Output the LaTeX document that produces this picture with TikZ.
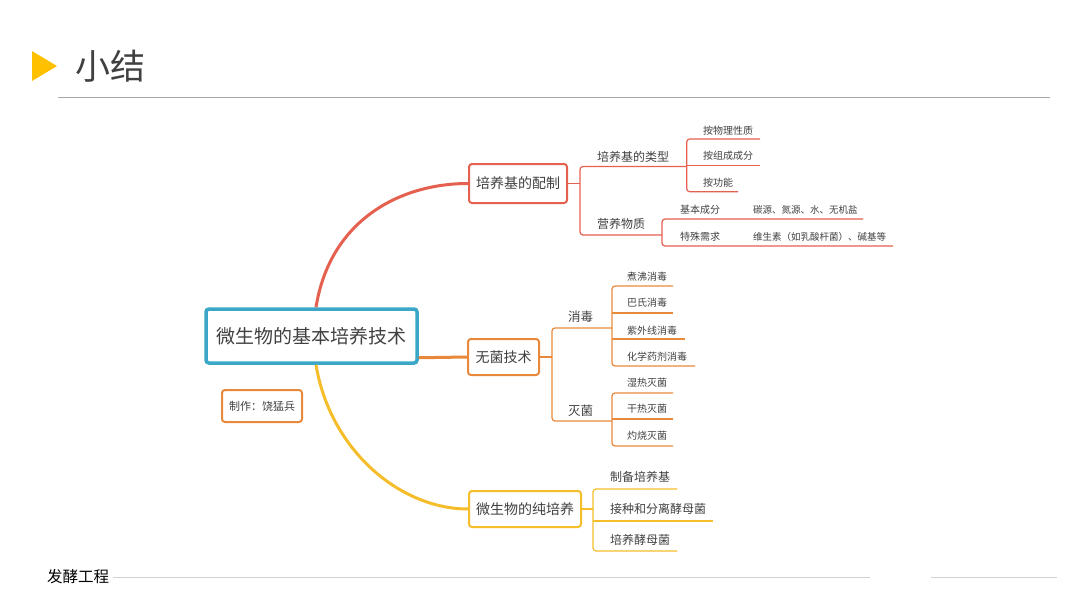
\documentclass[tikz,border=0pt]{standalone}
\usepackage{fontspec}
\setmainfont{Noto Sans CJK SC}
\definecolor{tgray}{HTML}{404040}
\definecolor{cblue}{HTML}{3AA6C8}
\definecolor{cred}{HTML}{E5604F}
\definecolor{corange}{HTML}{E8883A}
\definecolor{cyellow}{HTML}{F6BD2A}
\definecolor{tri}{HTML}{FFC000}
\tikzset{
  fs/.style={font=\fontsize{#1}{#1}\selectfont},
  txt/.style={anchor=west,inner sep=0pt,text=tgray},
  topbox/.style={draw=#1,line width=2pt,rounded corners=3pt,inner sep=0pt,fill=white,text=tgray,font=\fontsize{14}{14}\selectfont},
  sub/.style={draw=#1,line width=1.2pt,rounded corners=3pt},
  mainln/.style={draw=#1,line width=3pt},
}
\begin{document}
\begin{tikzpicture}[x=1pt,y=-1pt]
\useasboundingbox (0,0) rectangle (1080,608);
% title
\fill[tri] (32,51) -- (57,66) -- (32,81) -- cycle;
\node[txt,fs=35] (title) at (75,66) {小结};
\draw[gray!70,line width=1pt] (58,97) -- (1050,97);
% footer
\node[txt,fs=15.5,text=black] (foot) at (47,577) {发酵工程};
\draw[gray!35,line width=0.8pt] (foot.east) ++(4,0) -- (870,577);
\coordinate (f1) at (931,577);
\coordinate (f2) at (1057,577);
\draw[gray!35,line width=0.8pt] (f1) -- (f2);
% main connectors (drawn first, below boxes)
\coordinate (cN) at (316,307);
\coordinate (cS) at (316,365);
% central
\node[draw=cblue,line width=3.5pt,rounded corners=3pt,minimum width=211pt,minimum height=54pt,inner sep=0pt,text=tgray,font=\fontsize{19}{19}\selectfont] (c) at (311.5,336) {微生物的基本培养技术};
\node[draw=corange,line width=2pt,rounded corners=3pt,minimum width=80pt,minimum height=32pt,inner sep=0pt,text=tgray,font=\fontsize{11}{11}\selectfont] (author) at (262,406) {制作：饶猛兵};
% main topics
\node[topbox=cred,minimum width=98pt,minimum height=39pt] (r) at (518,183.5) {培养基的配制};
\node[topbox=corange,minimum width=71pt,minimum height=36pt] (o) at (503.5,357) {无菌技术};
\node[topbox=cyellow,minimum width=112pt,minimum height=36pt] (y) at (525,509) {微生物的纯培养};
% main connectors
\draw[mainln=cred] ([xshift=4.5pt]c.north) .. controls (330,220) and (400,183.5) .. (r.west);
\draw[mainln=cyellow] ([xshift=4.5pt]c.south) .. controls (330,450) and (400,509) .. (y.west);
\draw[mainln=corange] ([yshift=7pt]c.south east) -- (o.west);
% ---- red subtree
\draw[sub=cred,rounded corners=0pt] (r.east) -- (580,183.5);
\draw[sub=cred] (686.7,166.5) -- (580,166.5) -- (580,235) -- (662,235);
\draw[sub=cred] (760,139) -- (686.7,139) -- (686.7,191.7) -- (738,191.7);
\draw[sub=cred] (686.7,165.5) -- (760,165.5);
\draw[sub=cred] (863,219) -- (662,219) -- (662,246) -- (893,246);
\node[txt,fs=12] (r1) at (597,157) {培养基的类型};
\node[txt,fs=10] (r11) at (703,131) {按物理性质};
\node[txt,fs=10] (r12) at (703,156) {按组成成分};
\node[txt,fs=10] (r13) at (703,183) {按功能};
\node[txt,fs=12] (r2) at (597,224) {营养物质};
\node[txt,fs=10] (r21) at (680,210) {基本成分};
\node[txt,fs=9.5] (r211) at (753,210) {碳源、氮源、水、无机盐};
\node[txt,fs=10] (r22) at (680,237) {特殊需求};
\node[txt,fs=9.5] (r221) at (753,237) {维生素（如乳酸杆菌）、碱基等};
% ---- orange subtree
\draw[sub=corange,rounded corners=0pt] (o.east) -- (552,357);
\draw[sub=corange] (612,328) -- (552,328) -- (552,421) -- (612,421);
\draw[sub=corange] (673,286) -- (612,286) -- (612,366) -- (695,366);
\draw[sub=corange] (612,313) -- (673,313);
\draw[sub=corange] (612,339) -- (685,339);
\draw[sub=corange] (673,393) -- (612,393) -- (612,446) -- (673,446);
\draw[sub=corange] (612,419) -- (673,419);
\node[txt,fs=12.5] (o1) at (568,317) {消毒};
\node[txt,fs=10] (o11) at (627,277) {煮沸消毒};
\node[txt,fs=10] (o12) at (627,303) {巴氏消毒};
\node[txt,fs=10] (o13) at (627,331) {紫外线消毒};
\node[txt,fs=10] (o14) at (627,357) {化学药剂消毒};
\node[txt,fs=12.5] (o2) at (568,411) {灭菌};
\node[txt,fs=10] (o21) at (627,383) {湿热灭菌};
\node[txt,fs=10] (o22) at (627,409) {干热灭菌};
\node[txt,fs=10] (o23) at (627,436) {灼烧灭菌};
% ---- yellow subtree
\draw[sub=cyellow,rounded corners=0pt] (y.east) -- (593,509);
\draw[sub=cyellow] (677,489) -- (593,489) -- (593,551) -- (677,551);
\draw[sub=cyellow] (593,521) -- (713,521);
\node[txt,fs=12] (y1) at (610,477) {制备培养基};
\node[txt,fs=12] (y2) at (610,509) {接种和分离酵母菌};
\node[txt,fs=12] (y3) at (610,540) {培养酵母菌};
\end{tikzpicture}
\end{document}
